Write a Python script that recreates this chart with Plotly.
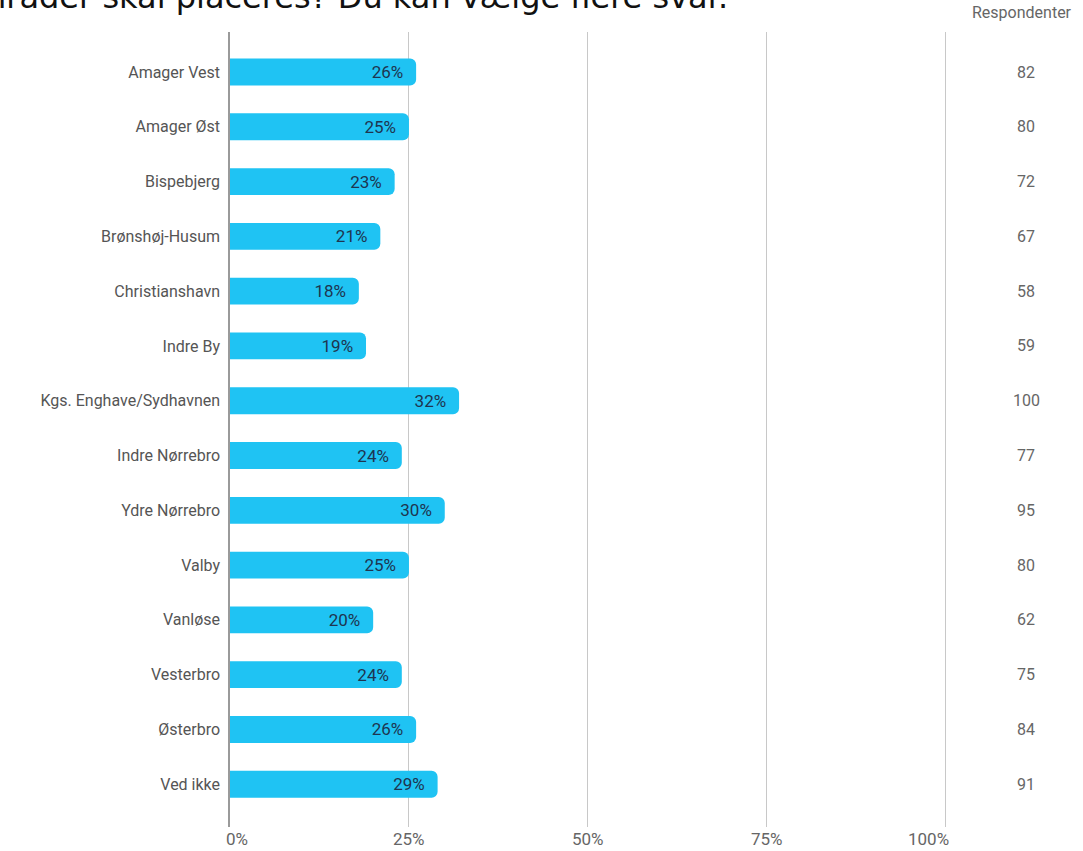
import plotly.graph_objects as go

categories = ["Amager Vest", "Amager Øst", "Bispebjerg", "Brønshøj-Husum", "Christianshavn",
              "Indre By", "Kgs. Enghave/Sydhavnen", "Indre Nørrebro", "Ydre Nørrebro", "Valby",
              "Vanløse", "Vesterbro", "Østerbro", "Ved ikke"]
percent = [26, 25, 23, 21, 18, 19, 32, 24, 30, 25, 20, 24, 26, 29]
respondents = [82, 80, 72, 67, 58, 59, 100, 77, 95, 80, 62, 75, 84, 91]
x_ticks = [0, 25, 50, 75, 100]
x_tick_labels = ["0%", "25%", "50%", "75%", "100%"]
title_text = "hrader skal placeres? Du kan vælge flere svar."
resp_header = "Respondenter"

W, H = 1083, 851
L, R, T, B = 230, 135, 32, 24
pw, ph = W - L - R, H - T - B

def px_x(p):
    return (p - L) / pw

def px_y(p):
    return (H - B - p) / ph

fig = go.Figure()
fig.add_trace(go.Bar(
    y=categories, x=percent, orientation="h",
    marker=dict(color="#1fc3f3", line=dict(width=0)),
    text=[f"{v}%\u00a0\u00a0" for v in percent], textposition="inside",
    insidetextanchor="end", constraintext="none",
    textfont=dict(family="Roboto", size=17, color="#1e3550"),
    width=0.49, hoverinfo="skip",
))

annotations = []
for c, r in zip(categories, respondents):
    annotations.append(dict(x=px_x(1026), xref="paper", y=c, yref="y", text=str(r),
                            showarrow=False, xanchor="center", yanchor="middle",
                            font=dict(family="Roboto", size=16, color="#666666")))
annotations.append(dict(x=px_x(1022), xref="paper", y=px_y(12), yref="paper", text=resp_header,
                        showarrow=False, xanchor="center", yanchor="middle",
                        font=dict(family="Roboto", size=16, color="#666666")))
annotations.append(dict(x=px_x(-16), xref="paper", y=px_y(18), yref="paper", text=title_text,
                        showarrow=False, xanchor="left", yanchor="bottom",
                        font=dict(family="DejaVu Sans", size=32, color="#111111")))
for v, t in zip(x_ticks, x_tick_labels):
    if v == x_ticks[0]:
        anchor, shift = "left", -6
    elif v == x_ticks[-1]:
        anchor, shift = "right", 5
    else:
        anchor, shift = "center", 0
    annotations.append(dict(x=v, xref="x", y=px_y(839), yref="paper", text=t,
                            showarrow=False, xanchor=anchor, yanchor="middle", xshift=shift,
                            font=dict(family="Roboto", size=17, color="#666666")))

fig.update_layout(
    width=W, height=H,
    margin=dict(l=L, r=R, t=T, b=B, autoexpand=False),
    paper_bgcolor="white", plot_bgcolor="white",
    showlegend=False,
    barcornerradius=6,
    annotations=annotations,
    xaxis=dict(range=[0, 100.3], tickvals=x_ticks, showticklabels=False,
               showgrid=True, gridcolor="#c8c8c8", gridwidth=1, zeroline=False,
               showline=False, ticks=""),
    yaxis=dict(categoryorder="array", categoryarray=categories,
               range=[13.78, -0.73], showgrid=False, zeroline=False,
               showline=True, linecolor="#9a9a9a", linewidth=1.5, ticks="",
               ticklabelstandoff=5,
               tickfont=dict(family="Roboto", size=16, color="#555555")),
)

fig.write_html("out.html", config={"displayModeBar": False},
               post_script="document.body.style.margin='0';document.body.style.overflow='hidden';")
